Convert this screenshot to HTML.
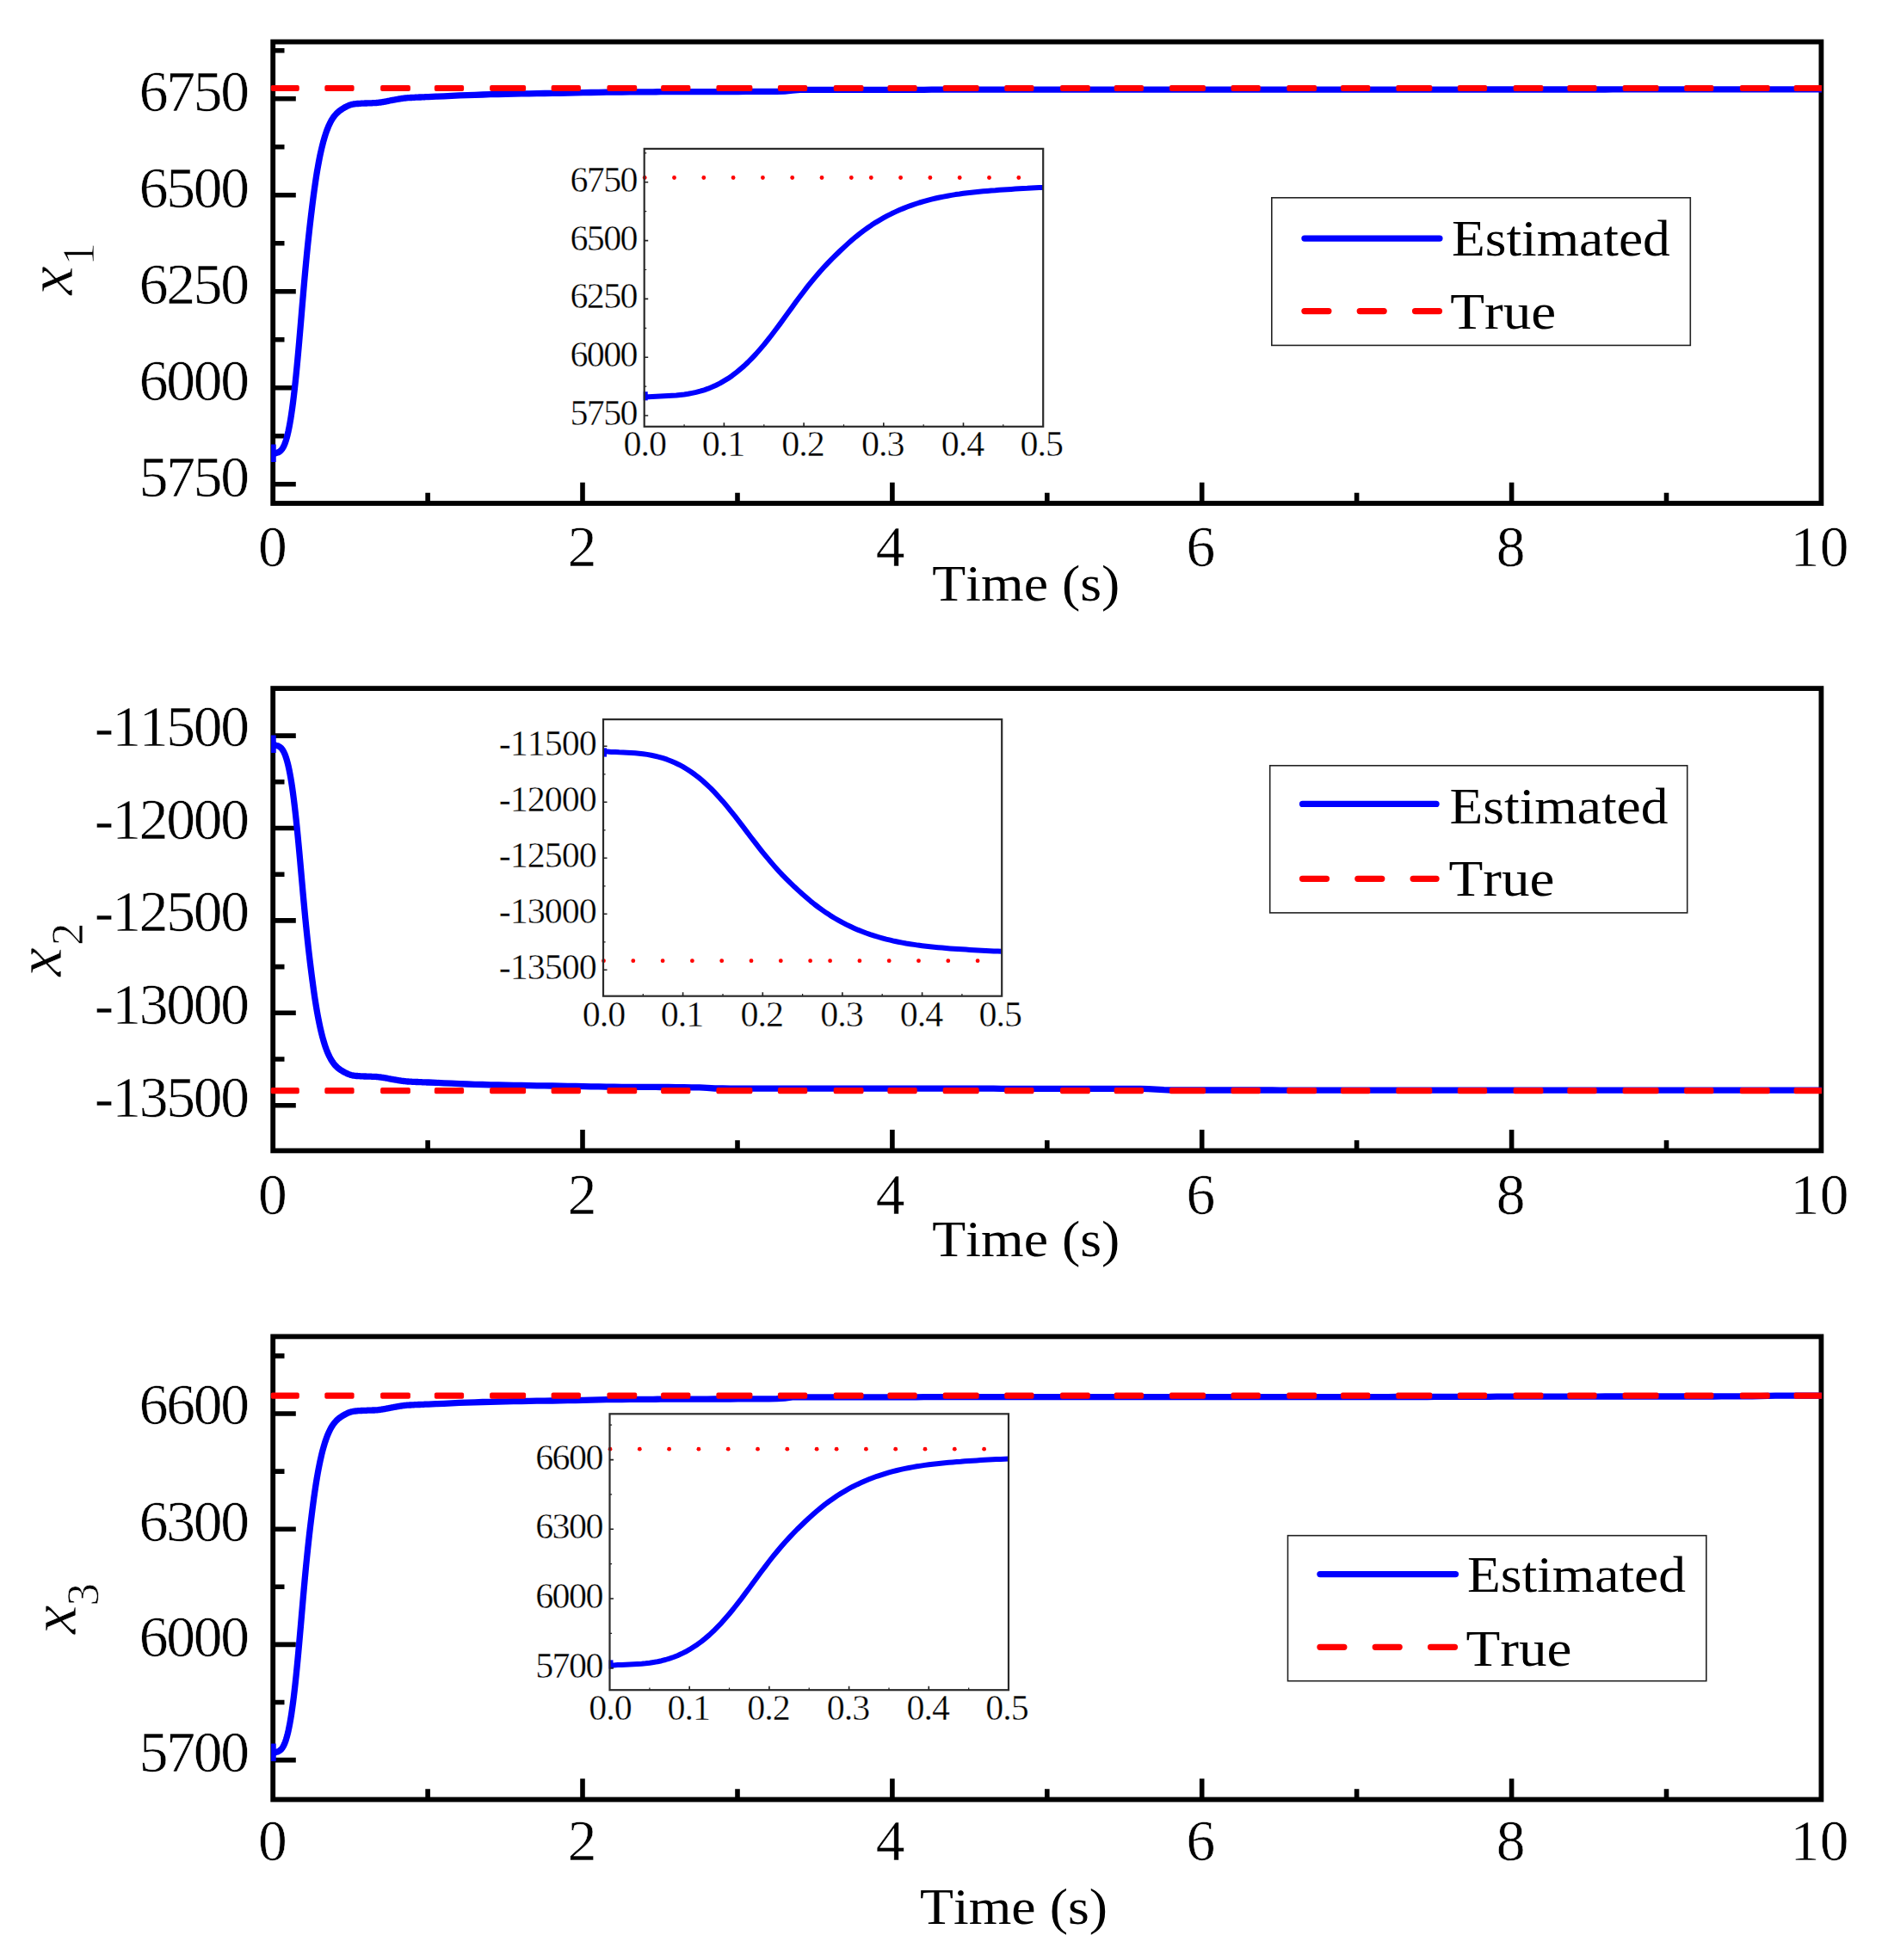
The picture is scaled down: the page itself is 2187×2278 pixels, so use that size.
<!DOCTYPE html>
<html lang="en"><head><meta charset="utf-8"><title>State estimation: estimated vs true</title>
<style>html,body{margin:0;padding:0;background:#fff}svg{display:block}text{font-family:'Liberation Serif', 'DejaVu Serif', serif;fill:#000;font-kerning:none}.tk{font-size:67.5px;stroke:#fff;stroke-width:.55px}.ti{font-size:42px;stroke:#fff;stroke-width:.4px}.lb{font-size:60px}</style></head><body>
<svg width="2187" height="2278" viewBox="0 0 2187 2278">
<rect width="2187" height="2278" fill="#fff"/>
<defs><clipPath id="cp"><rect x="314.2" y="0" width="1802.7" height="2278"/></clipPath></defs>
<g>
<rect x="317.2" y="48.6" width="1799.2" height="536.4" fill="none" stroke="#000" stroke-width="5.8"/>
<path d="M317.2,114.8 H343.8 M317.2,226.8 H343.8 M317.2,338.8 H343.8 M317.2,450.8 H343.8 M317.2,562.8 H343.8 M317.2,58.8 H330.5 M317.2,170.8 H330.5 M317.2,282.8 H330.5 M317.2,394.8 H330.5 M317.2,506.8 H330.5 M497.1,585 V572.8 M677,585 V560.7 M857,585 V572.8 M1036.9,585 V560.7 M1216.8,585 V572.8 M1396.7,585 V560.7 M1576.6,585 V572.8 M1756.6,585 V560.7 M1936.5,585 V572.8" stroke="#000" stroke-width="5.6" fill="none"/>
<g clip-path="url(#cp)"><path d="M317.9,516.5 V537" stroke="#0000ff" stroke-width="5.6" fill="none"/><path d="M317.2,527.5 318.2,527.5 319.3,527 320.3,526.7 321.3,526.4 322.4,526 323.4,525.7 324.3,525.2 325.2,524.6 326.1,523.9 327,522.9 327.9,521.8 328.8,520.4 329.7,518.7 330.6,516.6 331.5,514.3 332.4,511.6 333.3,508.5 334.2,505 335.1,501.1 336,496.7 336.9,491.9 337.8,486.6 338.7,480.8 339.6,474.5 340.5,467.7 341.4,460.4 342.3,452.6 343.2,444.4 344.1,435.6 345,426.4 345.9,416.9 346.8,407 347.7,396.7 348.6,386.3 349.5,375.7 350.4,365 351.3,354.3 352.2,343.7 353.1,333.2 354,323 354.9,313.1 355.8,303.5 356.7,294.2 357.6,285.2 358.5,276.6 359.4,268.3 360.3,260.4 361.2,252.7 362.1,245.2 363,237.9 363.9,230.7 364.8,223.9 365.7,217.4 366.6,211.2 367.5,205.3 368.4,199.7 369.3,194.5 370.2,189.5 371.1,184.8 372,180.3 372.9,176.2 373.8,172.3 374.7,168.6 375.6,165.1 376.5,161.9 377.4,158.8 378.3,156 379.2,153.3 380.1,150.9 381,148.6 381.9,146.4 382.8,144.5 383.7,142.6 384.6,140.9 385.5,139.3 386.4,137.9 387.3,136.5 388.2,135.3 389.1,134.1 390,133.1 390.9,132.1 391.8,131.2 392.7,130.4 393.6,129.6 394.5,128.9 395.4,128.2 396.3,127.6 397.2,127 398.1,126.4 399,125.9 399.9,125.3 400.8,124.8 401.7,124.3 402.6,123.9 403.5,123.4 404.4,123 405.3,122.6 406.2,122.2 407.1,121.9 408,121.6 408.9,121.4 409.8,121.2 410.7,121 411.6,120.9 412.5,120.8 413.4,120.7 414.3,120.6 415.2,120.5 416.1,120.5 417,120.4 417.9,120.3 418.8,120.3 419.7,120.2 420.6,120.2 421.5,120.2 422.4,120.1 423.3,120.1 424.2,120 425.1,120 426,120 426.9,119.9 427.8,119.9 428.7,119.9 429.6,119.8 430.4,119.8 431.3,119.8 432.2,119.8 433.1,119.7 434,119.7 434.9,119.7 435.8,119.6 436.7,119.6 437.6,119.5 438.5,119.4 439.4,119.3 440.3,119.2 441.2,119.1 442.1,119 443,118.9 443.9,118.7 444.8,118.6 445.7,118.4 446.6,118.3 447.5,118.1 448.4,118 449.3,117.8 450.2,117.6 451.1,117.4 452,117.2 452.9,117 453.8,116.8 454.7,116.6 455.6,116.5 456.5,116.3 457.4,116.2 458.3,116 459.2,115.8 460.1,115.7 461,115.5 461.9,115.3 462.8,115.2 463.7,115 464.6,114.9 465.5,114.7 466.4,114.6 467.3,114.4 468.2,114.3 469.1,114.2 470,114.1 470.9,114 471.8,113.9 472.7,113.8 473.6,113.7 474.5,113.7 475.4,113.6 476.3,113.6 477.2,113.5 478.1,113.5 479,113.4 479.9,113.4 480.8,113.3 481.7,113.3 482.6,113.2 483.5,113.2 484.4,113.2 485.3,113.1 486.2,113.1 487.1,113 488,113 488.9,113 489.8,112.9 490.7,112.9 491.6,112.9 492.5,112.8 493.4,112.8 494.3,112.7 495.2,112.7 496.1,112.7 497,112.6 497.9,112.6 506.9,112.2 515.9,111.8 524.9,111.3 533.9,110.9 542.9,110.6 551.9,110.3 560.9,110 569.9,109.7 578.9,109.5 587.9,109.3 596.9,109.1 605.9,108.9 614.9,108.8 623.9,108.6 632.9,108.5 641.9,108.4 650.9,108.3 659.8,108.1 668.8,107.9 677.8,107.7 686.8,107.5 695.8,107.3 704.8,107.2 713.8,107 722.8,107 731.8,106.9 740.8,106.9 749.8,106.8 758.8,106.8 767.8,106.7 776.8,106.7 785.8,106.7 794.8,106.7 803.8,106.6 812.8,106.6 821.8,106.6 830.8,106.6 839.8,106.5 848.8,106.5 857.8,106.5 866.8,106.4 875.8,106.4 884.7,106.4 893.7,106.3 902.7,106.3 911.7,106.1 920.7,105.1 929.7,104.4 938.7,104.4 947.7,104.4 956.7,104.3 965.7,104.3 974.7,104.3 983.7,104.3 992.7,104.3 1001.7,104.3 1010.7,104.3 1019.7,104.3 1028.7,104.3 1037.7,104.3 1046.7,104.3 1055.7,104.3 1064.7,104.3 1073.7,104.3 1082.7,104.2 1091.7,104.2 1100.7,104.2 1109.6,104.2 1118.6,104.2 1127.6,104.2 1136.6,104.2 1145.6,104.2 1154.6,104.2 1163.6,104.2 1172.6,104.2 1181.6,104.2 1190.6,104.2 1199.6,104.2 1208.6,104.2 1217.6,104.2 1226.6,104.2 1235.6,104.2 1244.6,104.2 1253.6,104.2 1262.6,104.2 1271.6,104.2 1280.6,104.2 1289.6,104.2 1298.6,104.2 1307.6,104.2 1316.6,104.2 1325.6,104.2 1334.5,104.2 1343.5,104.2 1352.5,104.2 1361.5,104.2 1370.5,104.2 1379.5,104.2 1388.5,104.2 1397.5,104.2 1406.5,104.2 1415.5,104.2 1424.5,104.2 1433.5,104.2 1442.5,104.2 1451.5,104.2 1460.5,104.2 1469.5,104.2 1478.5,104.2 1487.5,104.1 1496.5,104.1 1505.5,104.1 1514.5,104.1 1523.5,104.1 1532.5,104.1 1541.5,104.1 1550.5,104.1 1559.4,104.1 1568.4,104.1 1577.4,104.1 1586.4,104.1 1595.4,104.1 1604.4,104.1 1613.4,104.1 1622.4,104.1 1631.4,104.1 1640.4,104.1 1649.4,104.1 1658.4,104.1 1667.4,104.1 1676.4,104.1 1685.4,104.1 1694.4,104.1 1703.4,104 1712.4,104 1721.4,104 1730.4,104 1739.4,104 1748.4,104 1757.4,104 1766.4,104 1775.4,104 1784.3,104 1793.3,104 1802.3,104 1811.3,104 1820.3,104 1829.3,104 1838.3,104 1847.3,104 1856.3,104 1865.3,104 1874.3,103.9 1883.3,103.9 1892.3,103.9 1901.3,103.9 1910.3,103.9 1919.3,103.9 1928.3,103.9 1937.3,103.9 1946.3,103.9 1955.3,103.9 1964.3,103.9 1973.3,103.9 1982.3,103.9 1991.3,103.9 2000.3,103.9 2009.2,103.9 2018.2,103.8 2027.2,103.8 2036.2,103.8 2045.2,103.8 2054.2,103.8 2063.2,103.8 2072.2,103.8 2081.2,103.8 2090.2,103.8 2099.2,103.8 2108.2,103.8 2117.2,103.8" stroke="#0000ff" stroke-width="7.3" fill="none" stroke-linejoin="round"/><g fill="#ff0000"><rect x="314.7" y="98.9" width="33.1" height="7.2" rx="2"/><rect x="377.3" y="98.9" width="34.3" height="7.2" rx="2"/><rect x="442.1" y="98.9" width="34.8" height="7.2" rx="2"/><rect x="504.8" y="98.9" width="34.3" height="7.2" rx="2"/><rect x="569.1" y="98.9" width="42" height="7.2" rx="2"/><rect x="640.6" y="98.9" width="34.3" height="7.2" rx="2"/><rect x="705.4" y="98.9" width="34.8" height="7.2" rx="2"/><rect x="768.1" y="98.9" width="34.3" height="7.2" rx="2"/><rect x="832.4" y="98.9" width="42" height="7.2" rx="2"/><rect x="903.9" y="98.9" width="34.3" height="7.2" rx="2"/><rect x="968.7" y="98.9" width="34.8" height="7.2" rx="2"/><rect x="1031.4" y="98.9" width="34.3" height="7.2" rx="2"/><rect x="1095.7" y="98.9" width="42" height="7.2" rx="2"/><rect x="1167.2" y="98.9" width="34.3" height="7.2" rx="2"/><rect x="1232" y="98.9" width="34.8" height="7.2" rx="2"/><rect x="1294.7" y="98.9" width="34.3" height="7.2" rx="2"/><rect x="1359" y="98.9" width="42" height="7.2" rx="2"/><rect x="1430.5" y="98.9" width="34.3" height="7.2" rx="2"/><rect x="1495.3" y="98.9" width="34.8" height="7.2" rx="2"/><rect x="1558" y="98.9" width="34.3" height="7.2" rx="2"/><rect x="1622.3" y="98.9" width="42" height="7.2" rx="2"/><rect x="1693.8" y="98.9" width="34.3" height="7.2" rx="2"/><rect x="1758.6" y="98.9" width="34.8" height="7.2" rx="2"/><rect x="1821.3" y="98.9" width="34.3" height="7.2" rx="2"/><rect x="1885.6" y="98.9" width="42" height="7.2" rx="2"/><rect x="1957.1" y="98.9" width="34.3" height="7.2" rx="2"/><rect x="2021.9" y="98.9" width="34.8" height="7.2" rx="2"/><rect x="2084.6" y="98.9" width="33.8" height="7.2" rx="2"/></g></g>
<text class="tk" x="287.9" y="129.1" text-anchor="end" letter-spacing="-2.2">6750</text>
<text class="tk" x="287.9" y="240.8" text-anchor="end" letter-spacing="-2.2">6500</text>
<text class="tk" x="287.9" y="352.8" text-anchor="end" letter-spacing="-2.2">6250</text>
<text class="tk" x="287.9" y="464.8" text-anchor="end" letter-spacing="-2.2">6000</text>
<text class="tk" x="287.9" y="577.4" text-anchor="end" letter-spacing="-2.2">5750</text>
<text class="tk" x="316.9" y="658" text-anchor="middle">0</text>
<text class="tk" x="676.5" y="658" text-anchor="middle">2</text>
<text class="tk" x="1034.5" y="658" text-anchor="middle">4</text>
<text class="tk" x="1395.4" y="658" text-anchor="middle">6</text>
<text class="tk" x="1755.6" y="658" text-anchor="middle">8</text>
<text class="tk" x="2114.8" y="658" text-anchor="middle" letter-spacing="0.5">10</text>
<text class="lb" x="1083.3" y="697.8" textLength="218" lengthAdjust="spacingAndGlyphs">Time (s)</text>
<g transform="translate(84.3,343) rotate(-90)"><text x="0" y="0" font-size="76" font-style="italic" stroke="#fff" stroke-width=".7">x<tspan font-size="53" font-style="normal" dx="0.8" dy="24.6">1</tspan></text></g>
<rect x="1477.8" y="229.8" width="486.5" height="171.6" fill="#fff" stroke="#222" stroke-width="1.6"/>
<path d="M1516,277.1 H1672.9" stroke="#0000ff" stroke-width="7.4" stroke-linecap="round" fill="none"/>
<path d="M1515.9,361.6 H1673" stroke="#ff0000" stroke-width="7.2" stroke-linecap="round" stroke-dasharray="28 36.3" fill="none"/>
<text class="lb" x="1686.9" y="297.3" textLength="254" lengthAdjust="spacingAndGlyphs">Estimated</text>
<text class="lb" x="1685.3" y="382.4" textLength="123" lengthAdjust="spacingAndGlyphs">True</text>
<rect x="748.7" y="172.9" width="463.5" height="322.9" fill="#fff" stroke="none"/>
<path d="M750.2,455.2 V465.4" stroke="#0000ff" stroke-width="5" fill="none"/>
<path d="M748.7,461.2 753.3,461.2 758,460.9 762.6,460.7 767.2,460.5 771.9,460.3 776.5,460.1 781.1,459.8 785.8,459.5 790.4,459 795.1,458.5 799.7,457.8 804.3,456.9 809,455.9 813.6,454.7 818.2,453.3 822.9,451.7 827.5,449.8 832.1,447.7 836.8,445.4 841.4,442.7 846,439.9 850.7,436.7 855.3,433.2 859.9,429.4 864.6,425.4 869.2,421 873.8,416.3 878.5,411.4 883.1,406.1 887.8,400.6 892.4,394.9 897,389 901.7,382.8 906.3,376.6 910.9,370.2 915.6,363.8 920.2,357.4 924.8,351 929.5,344.8 934.1,338.7 938.7,332.7 943.4,326.9 948,321.4 952.6,316 957.3,310.8 961.9,305.9 966.5,301.1 971.2,296.5 975.8,292 980.5,287.6 985.1,283.4 989.7,279.3 994.4,275.3 999,271.6 1003.6,268.1 1008.3,264.8 1012.9,261.6 1017.5,258.6 1022.2,255.8 1026.8,253.2 1031.4,250.7 1036.1,248.3 1040.7,246.1 1045.3,244 1050,242.1 1054.6,240.3 1059.2,238.6 1063.9,237 1068.5,235.5 1073.2,234.1 1077.8,232.8 1082.4,231.6 1087.1,230.5 1091.7,229.5 1096.3,228.6 1101,227.7 1105.6,226.9 1110.2,226.1 1114.9,225.5 1119.5,224.8 1124.1,224.2 1128.8,223.7 1133.4,223.2 1138,222.7 1142.7,222.3 1147.3,221.9 1151.9,221.5 1156.6,221.2 1161.2,220.8 1165.9,220.5 1170.5,220.2 1175.1,219.9 1179.8,219.6 1184.4,219.3 1189,219 1193.7,218.8 1198.3,218.5 1202.9,218.3 1207.6,218.1 1212.2,218" stroke="#0000ff" stroke-width="6" fill="none" stroke-linejoin="round"/>
<g fill="#ff0000"><circle cx="749.2" cy="206.5" r="2.4"/><circle cx="783.5" cy="206.5" r="2.4"/><circle cx="817.8" cy="206.5" r="2.4"/><circle cx="852.1" cy="206.5" r="2.4"/><circle cx="886.4" cy="206.5" r="2.4"/><circle cx="920.7" cy="206.5" r="2.4"/><circle cx="955" cy="206.5" r="2.4"/><circle cx="989.3" cy="206.5" r="2.4"/><circle cx="1012.3" cy="206.5" r="2.4"/><circle cx="1046.6" cy="206.5" r="2.4"/><circle cx="1080.9" cy="206.5" r="2.4"/><circle cx="1115.2" cy="206.5" r="2.4"/><circle cx="1149.5" cy="206.5" r="2.4"/><circle cx="1183.8" cy="206.5" r="2.4"/></g>
<rect x="748.7" y="172.9" width="463.5" height="322.9" fill="none" stroke="#2a2a2a" stroke-width="2.2"/>
<path d="M748.7,211.8 h4.5 M748.7,279.6 h4.5 M748.7,347.4 h4.5 M748.7,415.2 h4.5 M748.7,483 h4.5 M841.4,495.8 v-4.5 M934.1,495.8 v-4.5 M1026.8,495.8 v-4.5 M1119.5,495.8 v-4.5" stroke="#222" stroke-width="1.6" fill="none"/>
<path d="M748.7,177.9 h2.6 M748.7,245.7 h2.6 M748.7,313.5 h2.6 M748.7,381.3 h2.6 M748.7,449.1 h2.6 M795.1,495.8 v-2.6 M887.8,495.8 v-2.6 M980.5,495.8 v-2.6 M1073.2,495.8 v-2.6 M1165.8,495.8 v-2.6" stroke="#222" stroke-width="1.2" fill="none"/>
<text class="ti" x="740" y="222.8" text-anchor="end" letter-spacing="-1.6">6750</text>
<text class="ti" x="740" y="290.6" text-anchor="end" letter-spacing="-1.6">6500</text>
<text class="ti" x="740" y="358.4" text-anchor="end" letter-spacing="-1.6">6250</text>
<text class="ti" x="740" y="426.2" text-anchor="end" letter-spacing="-1.6">6000</text>
<text class="ti" x="740" y="494" text-anchor="end" letter-spacing="-1.6">5750</text>
<text class="ti" x="749.2" y="530.4" text-anchor="middle" letter-spacing="-1">0.0</text>
<text class="ti" x="840.4" y="530.4" text-anchor="middle" letter-spacing="-1">0.1</text>
<text class="ti" x="933.1" y="530.4" text-anchor="middle" letter-spacing="-1">0.2</text>
<text class="ti" x="1025.8" y="530.4" text-anchor="middle" letter-spacing="-1">0.3</text>
<text class="ti" x="1118.5" y="530.4" text-anchor="middle" letter-spacing="-1">0.4</text>
<text class="ti" x="1210.2" y="530.4" text-anchor="middle" letter-spacing="-1">0.5</text>
</g>
<g>
<rect x="317.2" y="800.1" width="1799.2" height="537.3" fill="none" stroke="#000" stroke-width="5.8"/>
<path d="M317.2,855.1 H343.8 M317.2,962.5 H343.8 M317.2,1069.9 H343.8 M317.2,1177.3 H343.8 M317.2,1284.7 H343.8 M317.2,908.8 H330.5 M317.2,1016.2 H330.5 M317.2,1123.6 H330.5 M317.2,1231 H330.5 M497.1,1337.4 V1325.2 M677,1337.4 V1313.1 M857,1337.4 V1325.2 M1036.9,1337.4 V1313.1 M1216.8,1337.4 V1325.2 M1396.7,1337.4 V1313.1 M1576.6,1337.4 V1325.2 M1756.6,1337.4 V1313.1 M1936.5,1337.4 V1325.2" stroke="#000" stroke-width="5.6" fill="none"/>
<g clip-path="url(#cp)"><path d="M317.9,854.4 V874.9" stroke="#0000ff" stroke-width="5.6" fill="none"/><path d="M317.2,865.4 318.2,865.4 319.3,865.8 320.3,866.2 321.3,866.5 322.4,866.8 323.4,867.1 324.3,867.6 325.2,868.1 326.1,868.8 327,869.7 327.9,870.8 328.8,872.2 329.7,873.8 330.6,875.7 331.5,877.9 332.4,880.5 333.3,883.4 334.2,886.7 335.1,890.4 336,894.5 336.9,899.1 337.8,904.1 338.7,909.6 339.6,915.5 340.5,922 341.4,928.9 342.3,936.2 343.2,944.1 344.1,952.3 345,961 345.9,970.1 346.8,979.5 347.7,989.2 348.6,999 349.5,1009.1 350.4,1019.2 351.3,1029.3 352.2,1039.4 353.1,1049.2 354,1058.9 354.9,1068.3 355.8,1077.4 356.7,1086.2 357.6,1094.7 358.5,1102.8 359.4,1110.6 360.3,1118.2 361.2,1125.5 362.1,1132.6 363,1139.5 363.9,1146.2 364.8,1152.7 365.7,1158.9 366.6,1164.8 367.5,1170.3 368.4,1175.6 369.3,1180.6 370.2,1185.3 371.1,1189.7 372,1193.9 372.9,1197.9 373.8,1201.6 374.7,1205.1 375.6,1208.4 376.5,1211.4 377.4,1214.3 378.3,1217 379.2,1219.5 380.1,1221.8 381,1224 381.9,1226 382.8,1227.9 383.7,1229.6 384.6,1231.3 385.5,1232.7 386.4,1234.1 387.3,1235.4 388.2,1236.6 389.1,1237.7 390,1238.7 390.9,1239.6 391.8,1240.4 392.7,1241.2 393.6,1242 394.5,1242.6 395.4,1243.3 396.3,1243.9 397.2,1244.4 398.1,1245 399,1245.5 399.9,1246 400.8,1246.5 401.7,1246.9 402.6,1247.4 403.5,1247.8 404.4,1248.2 405.3,1248.6 406.2,1248.9 407.1,1249.2 408,1249.5 408.9,1249.7 409.8,1249.9 410.7,1250.1 411.6,1250.2 412.5,1250.3 413.4,1250.4 414.3,1250.5 415.2,1250.5 416.1,1250.6 417,1250.7 417.9,1250.7 418.8,1250.8 419.7,1250.8 420.6,1250.9 421.5,1250.9 422.4,1250.9 423.3,1251 424.2,1251 425.1,1251 426,1251.1 426.9,1251.1 427.8,1251.1 428.7,1251.2 429.6,1251.2 430.4,1251.2 431.3,1251.2 432.2,1251.3 433.1,1251.3 434,1251.3 434.9,1251.3 435.8,1251.4 436.7,1251.4 437.6,1251.5 438.5,1251.6 439.4,1251.7 440.3,1251.8 441.2,1251.9 442.1,1252 443,1252.1 443.9,1252.3 444.8,1252.4 445.7,1252.5 446.6,1252.7 447.5,1252.8 448.4,1253 449.3,1253.1 450.2,1253.3 451.1,1253.5 452,1253.7 452.9,1253.9 453.8,1254 454.7,1254.2 455.6,1254.4 456.5,1254.5 457.4,1254.7 458.3,1254.8 459.2,1255 460.1,1255.1 461,1255.3 461.9,1255.5 462.8,1255.6 463.7,1255.8 464.6,1255.9 465.5,1256 466.4,1256.2 467.3,1256.3 468.2,1256.4 469.1,1256.5 470,1256.6 470.9,1256.7 471.8,1256.8 472.7,1256.9 473.6,1257 474.5,1257 475.4,1257.1 476.3,1257.1 477.2,1257.2 478.1,1257.2 479,1257.3 479.9,1257.3 480.8,1257.4 481.7,1257.4 482.6,1257.4 483.5,1257.5 484.4,1257.5 485.3,1257.5 486.2,1257.6 487.1,1257.6 488,1257.7 488.9,1257.7 489.8,1257.7 490.7,1257.8 491.6,1257.8 492.5,1257.8 493.4,1257.9 494.3,1257.9 495.2,1257.9 496.1,1258 497,1258 497.9,1258 506.9,1258.4 515.9,1258.8 524.9,1259.2 533.9,1259.6 542.9,1260 551.9,1260.3 560.9,1260.5 569.9,1260.8 578.9,1261 587.9,1261.2 596.9,1261.4 605.9,1261.5 614.9,1261.7 623.9,1261.8 632.9,1261.9 641.9,1262 650.9,1262.2 659.8,1262.3 668.8,1262.4 677.8,1262.6 686.8,1262.8 695.8,1262.9 704.8,1263.1 713.8,1263.2 722.8,1263.3 731.8,1263.3 740.8,1263.4 749.8,1263.4 758.8,1263.4 767.8,1263.5 776.8,1263.5 785.8,1263.6 794.8,1263.7 803.8,1263.8 812.8,1263.9 821.8,1264.3 830.8,1265 839.8,1265 848.8,1265.1 857.8,1265.1 866.8,1265.1 875.8,1265.1 884.7,1265.1 893.7,1265.1 902.7,1265.1 911.7,1265.1 920.7,1265.1 929.7,1265.1 938.7,1265.1 947.7,1265.2 956.7,1265.2 965.7,1265.2 974.7,1265.2 983.7,1265.2 992.7,1265.2 1001.7,1265.2 1010.7,1265.2 1019.7,1265.2 1028.7,1265.2 1037.7,1265.2 1046.7,1265.2 1055.7,1265.2 1064.7,1265.2 1073.7,1265.2 1082.7,1265.2 1091.7,1265.2 1100.7,1265.2 1109.6,1265.2 1118.6,1265.2 1127.6,1265.2 1136.6,1265.2 1145.6,1265.2 1154.6,1265.2 1163.6,1265.3 1172.6,1265.3 1181.6,1265.3 1190.6,1265.3 1199.6,1265.3 1208.6,1265.3 1217.6,1265.3 1226.6,1265.3 1235.6,1265.3 1244.6,1265.3 1253.6,1265.3 1262.6,1265.3 1271.6,1265.3 1280.6,1265.3 1289.6,1265.3 1298.6,1265.4 1307.6,1265.4 1316.6,1265.4 1325.6,1265.4 1334.5,1265.6 1343.5,1266.1 1352.5,1266.7 1361.5,1267 1370.5,1267 1379.5,1267 1388.5,1267 1397.5,1267 1406.5,1267 1415.5,1267 1424.5,1267 1433.5,1267 1442.5,1267 1451.5,1267 1460.5,1267 1469.5,1267 1478.5,1267 1487.5,1267.1 1496.5,1267.1 1505.5,1267.1 1514.5,1267.1 1523.5,1267.1 1532.5,1267.1 1541.5,1267.1 1550.5,1267.1 1559.4,1267.1 1568.4,1267.1 1577.4,1267.1 1586.4,1267.1 1595.4,1267.1 1604.4,1267.1 1613.4,1267.1 1622.4,1267.1 1631.4,1267.1 1640.4,1267.1 1649.4,1267.1 1658.4,1267.1 1667.4,1267.1 1676.4,1267.1 1685.4,1267.1 1694.4,1267.2 1703.4,1267.2 1712.4,1267.2 1721.4,1267.2 1730.4,1267.2 1739.4,1267.2 1748.4,1267.2 1757.4,1267.2 1766.4,1267.2 1775.4,1267.2 1784.3,1267.2 1793.3,1267.2 1802.3,1267.2 1811.3,1267.2 1820.3,1267.2 1829.3,1267.2 1838.3,1267.2 1847.3,1267.2 1856.3,1267.2 1865.3,1267.2 1874.3,1267.2 1883.3,1267.2 1892.3,1267.2 1901.3,1267.2 1910.3,1267.2 1919.3,1267.2 1928.3,1267.2 1937.3,1267.2 1946.3,1267.2 1955.3,1267.2 1964.3,1267.2 1973.3,1267.2 1982.3,1267.2 1991.3,1267.2 2000.3,1267.2 2009.2,1267.2 2018.2,1267.2 2027.2,1267.2 2036.2,1267.2 2045.2,1267.2 2054.2,1267.2 2063.2,1267.2 2072.2,1267.2 2081.2,1267.2 2090.2,1267.2 2099.2,1267.2 2108.2,1267.2 2117.2,1267.2" stroke="#0000ff" stroke-width="7.3" fill="none" stroke-linejoin="round"/><g fill="#ff0000"><rect x="314.7" y="1264" width="33.1" height="7.2" rx="2"/><rect x="377.3" y="1264" width="34.3" height="7.2" rx="2"/><rect x="442.1" y="1264" width="34.8" height="7.2" rx="2"/><rect x="504.8" y="1264" width="34.3" height="7.2" rx="2"/><rect x="569.1" y="1264" width="42" height="7.2" rx="2"/><rect x="640.6" y="1264" width="34.3" height="7.2" rx="2"/><rect x="705.4" y="1264" width="34.8" height="7.2" rx="2"/><rect x="768.1" y="1264" width="34.3" height="7.2" rx="2"/><rect x="832.4" y="1264" width="42" height="7.2" rx="2"/><rect x="903.9" y="1264" width="34.3" height="7.2" rx="2"/><rect x="968.7" y="1264" width="34.8" height="7.2" rx="2"/><rect x="1031.4" y="1264" width="34.3" height="7.2" rx="2"/><rect x="1095.7" y="1264" width="42" height="7.2" rx="2"/><rect x="1167.2" y="1264" width="34.3" height="7.2" rx="2"/><rect x="1232" y="1264" width="34.8" height="7.2" rx="2"/><rect x="1294.7" y="1264" width="34.3" height="7.2" rx="2"/><rect x="1359" y="1264" width="42" height="7.2" rx="2"/><rect x="1430.5" y="1264" width="34.3" height="7.2" rx="2"/><rect x="1495.3" y="1264" width="34.8" height="7.2" rx="2"/><rect x="1558" y="1264" width="34.3" height="7.2" rx="2"/><rect x="1622.3" y="1264" width="42" height="7.2" rx="2"/><rect x="1693.8" y="1264" width="34.3" height="7.2" rx="2"/><rect x="1758.6" y="1264" width="34.8" height="7.2" rx="2"/><rect x="1821.3" y="1264" width="34.3" height="7.2" rx="2"/><rect x="1885.6" y="1264" width="42" height="7.2" rx="2"/><rect x="1957.1" y="1264" width="34.3" height="7.2" rx="2"/><rect x="2021.9" y="1264" width="34.8" height="7.2" rx="2"/><rect x="2084.6" y="1264" width="33.8" height="7.2" rx="2"/></g></g>
<text class="tk" x="287.9" y="866.8" text-anchor="end" letter-spacing="-2.2">-11500</text>
<text class="tk" x="287.9" y="975" text-anchor="end" letter-spacing="-2.2">-12000</text>
<text class="tk" x="287.9" y="1082.2" text-anchor="end" letter-spacing="-2.2">-12500</text>
<text class="tk" x="287.9" y="1190" text-anchor="end" letter-spacing="-2.2">-13000</text>
<text class="tk" x="287.9" y="1297.7" text-anchor="end" letter-spacing="-2.2">-13500</text>
<text class="tk" x="316.9" y="1410.5" text-anchor="middle">0</text>
<text class="tk" x="676.5" y="1410.5" text-anchor="middle">2</text>
<text class="tk" x="1034.5" y="1410.5" text-anchor="middle">4</text>
<text class="tk" x="1395.4" y="1410.5" text-anchor="middle">6</text>
<text class="tk" x="1755.6" y="1410.5" text-anchor="middle">8</text>
<text class="tk" x="2114.8" y="1410.5" text-anchor="middle" letter-spacing="0.5">10</text>
<text class="lb" x="1083.3" y="1460" textLength="218" lengthAdjust="spacingAndGlyphs">Time (s)</text>
<g transform="translate(71.4,1135) rotate(-90)"><text x="0" y="0" font-size="76" font-style="italic" stroke="#fff" stroke-width=".7">x<tspan font-size="53" font-style="normal" dx="2.4" dy="24.3">2</tspan></text></g>
<rect x="1475.7" y="889.8" width="485" height="171.1" fill="#fff" stroke="#222" stroke-width="1.6"/>
<path d="M1513.6,934.4 H1669" stroke="#0000ff" stroke-width="7.4" stroke-linecap="round" fill="none"/>
<path d="M1513.5,1021.3 H1669.1" stroke="#ff0000" stroke-width="7.2" stroke-linecap="round" stroke-dasharray="28 36.3" fill="none"/>
<text class="lb" x="1684.5" y="956.7" textLength="254" lengthAdjust="spacingAndGlyphs">Estimated</text>
<text class="lb" x="1683.5" y="1040.9" textLength="123" lengthAdjust="spacingAndGlyphs">True</text>
<rect x="701" y="836.1" width="463.2" height="321.6" fill="#fff" stroke="none"/>
<path d="M702.5,879.6 V869.4" stroke="#0000ff" stroke-width="5" fill="none"/>
<path d="M701,873.6 705.6,873.6 710.3,873.9 714.9,874.1 719.5,874.3 724.2,874.4 728.8,874.7 733.4,874.9 738.1,875.3 742.7,875.7 747.3,876.2 752,876.9 756.6,877.7 761.2,878.7 765.8,879.8 770.5,881.2 775.1,882.7 779.7,884.5 784.4,886.5 789,888.7 793.6,891.2 798.3,894 802.9,897 807.5,900.3 812.2,903.9 816.8,907.8 821.4,912 826.1,916.4 830.7,921.2 835.3,926.2 840,931.4 844.6,936.9 849.2,942.6 853.9,948.4 858.5,954.4 863.1,960.4 867.8,966.6 872.4,972.7 877,978.7 881.6,984.7 886.3,990.6 890.9,996.2 895.5,1001.7 900.2,1007.1 904.8,1012.2 909.4,1017.1 914.1,1021.8 918.7,1026.4 923.3,1030.8 928,1035.1 932.6,1039.3 937.2,1043.3 941.9,1047.3 946.5,1051 951.1,1054.5 955.8,1057.9 960.4,1061.1 965,1064.1 969.7,1067 974.3,1069.6 978.9,1072.2 983.6,1074.6 988.2,1076.8 992.8,1078.9 997.4,1080.9 1002.1,1082.7 1006.7,1084.5 1011.3,1086.1 1016,1087.6 1020.6,1089 1025.2,1090.3 1029.9,1091.6 1034.5,1092.7 1039.1,1093.8 1043.8,1094.7 1048.4,1095.6 1053,1096.5 1057.7,1097.2 1062.3,1097.9 1066.9,1098.6 1071.6,1099.2 1076.2,1099.8 1080.8,1100.3 1085.5,1100.8 1090.1,1101.2 1094.7,1101.6 1099.4,1102 1104,1102.4 1108.6,1102.7 1113.2,1103 1117.9,1103.3 1122.5,1103.6 1127.1,1103.9 1131.8,1104.2 1136.4,1104.5 1141,1104.7 1145.7,1105 1150.3,1105.2 1154.9,1105.4 1159.6,1105.6 1164.2,1105.8" stroke="#0000ff" stroke-width="6" fill="none" stroke-linejoin="round"/>
<g fill="#ff0000"><circle cx="701.5" cy="1116.7" r="2.4"/><circle cx="735.8" cy="1116.7" r="2.4"/><circle cx="770.1" cy="1116.7" r="2.4"/><circle cx="804.4" cy="1116.7" r="2.4"/><circle cx="838.7" cy="1116.7" r="2.4"/><circle cx="873" cy="1116.7" r="2.4"/><circle cx="907.3" cy="1116.7" r="2.4"/><circle cx="941.6" cy="1116.7" r="2.4"/><circle cx="964.6" cy="1116.7" r="2.4"/><circle cx="998.9" cy="1116.7" r="2.4"/><circle cx="1033.2" cy="1116.7" r="2.4"/><circle cx="1067.5" cy="1116.7" r="2.4"/><circle cx="1101.8" cy="1116.7" r="2.4"/><circle cx="1136.1" cy="1116.7" r="2.4"/></g>
<rect x="701" y="836.1" width="463.2" height="321.6" fill="none" stroke="#2a2a2a" stroke-width="2.2"/>
<path d="M701,867.3 h4.5 M701,932.3 h4.5 M701,997.3 h4.5 M701,1062.3 h4.5 M701,1127.3 h4.5 M793.6,1157.7 v-4.5 M886.3,1157.7 v-4.5 M978.9,1157.7 v-4.5 M1071.6,1157.7 v-4.5" stroke="#222" stroke-width="1.6" fill="none"/>
<path d="M701,899.8 h2.6 M701,964.8 h2.6 M701,1029.8 h2.6 M701,1094.8 h2.6 M747.3,1157.7 v-2.6 M840,1157.7 v-2.6 M932.6,1157.7 v-2.6 M1025.2,1157.7 v-2.6 M1117.9,1157.7 v-2.6" stroke="#222" stroke-width="1.2" fill="none"/>
<text class="ti" x="692.7" y="878.3" text-anchor="end" letter-spacing="-1.0">-11500</text>
<text class="ti" x="692.7" y="943.3" text-anchor="end" letter-spacing="-1.0">-12000</text>
<text class="ti" x="692.7" y="1008.3" text-anchor="end" letter-spacing="-1.0">-12500</text>
<text class="ti" x="692.7" y="1073.3" text-anchor="end" letter-spacing="-1.0">-13000</text>
<text class="ti" x="692.7" y="1138.3" text-anchor="end" letter-spacing="-1.0">-13500</text>
<text class="ti" x="701.5" y="1192.8" text-anchor="middle" letter-spacing="-1">0.0</text>
<text class="ti" x="792.6" y="1192.8" text-anchor="middle" letter-spacing="-1">0.1</text>
<text class="ti" x="885.3" y="1192.8" text-anchor="middle" letter-spacing="-1">0.2</text>
<text class="ti" x="977.9" y="1192.8" text-anchor="middle" letter-spacing="-1">0.3</text>
<text class="ti" x="1070.6" y="1192.8" text-anchor="middle" letter-spacing="-1">0.4</text>
<text class="ti" x="1162.2" y="1192.8" text-anchor="middle" letter-spacing="-1">0.5</text>
</g>
<g>
<rect x="317.2" y="1553.4" width="1799.2" height="538.1" fill="none" stroke="#000" stroke-width="5.8"/>
<path d="M317.2,1643 H343.8 M317.2,1777.2 H343.8 M317.2,1911.4 H343.8 M317.2,2045.6 H343.8 M317.2,1575.9 H330.5 M317.2,1710.1 H330.5 M317.2,1844.3 H330.5 M317.2,1978.5 H330.5 M497.1,2091.5 V2079.3 M677,2091.5 V2067.2 M857,2091.5 V2079.3 M1036.9,2091.5 V2067.2 M1216.8,2091.5 V2079.3 M1396.7,2091.5 V2067.2 M1576.6,2091.5 V2079.3 M1756.6,2091.5 V2067.2 M1936.5,2091.5 V2079.3" stroke="#000" stroke-width="5.6" fill="none"/>
<g clip-path="url(#cp)"><path d="M317.9,2026.4 V2046.9" stroke="#0000ff" stroke-width="5.6" fill="none"/><path d="M317.2,2037.4 318.2,2037.4 319.3,2037 320.3,2036.6 321.3,2036.3 322.4,2036 323.4,2035.6 324.3,2035.1 325.2,2034.6 326.1,2033.8 327,2032.9 327.9,2031.8 328.8,2030.4 329.7,2028.8 330.6,2026.8 331.5,2024.5 332.4,2021.8 333.3,2018.8 334.2,2015.4 335.1,2011.6 336,2007.3 336.9,2002.6 337.8,1997.4 338.7,1991.8 339.6,1985.6 340.5,1979 341.4,1971.9 342.3,1964.3 343.2,1956.2 344.1,1947.6 345,1938.7 345.9,1929.3 346.8,1919.6 347.7,1909.6 348.6,1899.4 349.5,1889.1 350.4,1878.6 351.3,1868.2 352.2,1857.8 353.1,1847.6 354,1837.6 354.9,1827.9 355.8,1818.5 356.7,1809.5 357.6,1800.7 358.5,1792.3 359.4,1784.2 360.3,1776.4 361.2,1768.9 362.1,1761.6 363,1754.4 363.9,1747.5 364.8,1740.8 365.7,1734.4 366.6,1728.4 367.5,1722.6 368.4,1717.2 369.3,1712 370.2,1707.2 371.1,1702.6 372,1698.3 372.9,1694.2 373.8,1690.3 374.7,1686.7 375.6,1683.4 376.5,1680.2 377.4,1677.2 378.3,1674.5 379.2,1671.9 380.1,1669.5 381,1667.2 381.9,1665.1 382.8,1663.2 383.7,1661.4 384.6,1659.7 385.5,1658.2 386.4,1656.8 387.3,1655.4 388.2,1654.2 389.1,1653.1 390,1652.1 390.9,1651.1 391.8,1650.2 392.7,1649.4 393.6,1648.7 394.5,1648 395.4,1647.3 396.3,1646.7 397.2,1646.1 398.1,1645.5 399,1645 399.9,1644.5 400.8,1644 401.7,1643.5 402.6,1643.1 403.5,1642.6 404.4,1642.2 405.3,1641.8 406.2,1641.5 407.1,1641.2 408,1640.9 408.9,1640.7 409.8,1640.5 410.7,1640.3 411.6,1640.2 412.5,1640.1 413.4,1640 414.3,1639.9 415.2,1639.8 416.1,1639.7 417,1639.7 417.9,1639.6 418.8,1639.6 419.7,1639.5 420.6,1639.5 421.5,1639.4 422.4,1639.4 423.3,1639.4 424.2,1639.3 425.1,1639.3 426,1639.3 426.9,1639.2 427.8,1639.2 428.7,1639.2 429.6,1639.1 430.4,1639.1 431.3,1639.1 432.2,1639.1 433.1,1639 434,1639 434.9,1639 435.8,1638.9 436.7,1638.9 437.6,1638.8 438.5,1638.8 439.4,1638.7 440.3,1638.6 441.2,1638.4 442.1,1638.3 443,1638.2 443.9,1638 444.8,1637.9 445.7,1637.8 446.6,1637.6 447.5,1637.5 448.4,1637.3 449.3,1637.1 450.2,1636.9 451.1,1636.8 452,1636.6 452.9,1636.4 453.8,1636.2 454.7,1636 455.6,1635.9 456.5,1635.7 457.4,1635.5 458.3,1635.4 459.2,1635.2 460.1,1635.1 461,1634.9 461.9,1634.7 462.8,1634.6 463.7,1634.4 464.6,1634.3 465.5,1634.1 466.4,1634 467.3,1633.9 468.2,1633.7 469.1,1633.6 470,1633.5 470.9,1633.4 471.8,1633.3 472.7,1633.2 473.6,1633.2 474.5,1633.1 475.4,1633.1 476.3,1633 477.2,1633 478.1,1632.9 479,1632.9 479.9,1632.8 480.8,1632.8 481.7,1632.7 482.6,1632.7 483.5,1632.7 484.4,1632.6 485.3,1632.6 486.2,1632.5 487.1,1632.5 488,1632.5 488.9,1632.4 489.8,1632.4 490.7,1632.3 491.6,1632.3 492.5,1632.3 493.4,1632.2 494.3,1632.2 495.2,1632.2 496.1,1632.1 497,1632.1 497.9,1632.1 506.9,1631.7 515.9,1631.3 524.9,1630.8 533.9,1630.4 542.9,1630.1 551.9,1629.8 560.9,1629.5 569.9,1629.3 578.9,1629 587.9,1628.8 596.9,1628.6 605.9,1628.5 614.9,1628.3 623.9,1628.2 632.9,1628.1 641.9,1628 650.9,1627.8 659.8,1627.7 668.8,1627.5 677.8,1627.3 686.8,1627.1 695.8,1626.8 704.8,1626.7 713.8,1626.6 722.8,1626.5 731.8,1626.4 740.8,1626.4 749.8,1626.3 758.8,1626.3 767.8,1626.2 776.8,1626.2 785.8,1626.2 794.8,1626.1 803.8,1626.1 812.8,1626.1 821.8,1626.1 830.8,1626 839.8,1626 848.8,1626 857.8,1625.9 866.8,1625.9 875.8,1625.9 884.7,1625.8 893.7,1625.8 902.7,1625.7 911.7,1625.2 920.7,1623.9 929.7,1623.9 938.7,1623.8 947.7,1623.8 956.7,1623.8 965.7,1623.8 974.7,1623.8 983.7,1623.8 992.7,1623.8 1001.7,1623.8 1010.7,1623.8 1019.7,1623.8 1028.7,1623.8 1037.7,1623.8 1046.7,1623.8 1055.7,1623.8 1064.7,1623.8 1073.7,1623.7 1082.7,1623.7 1091.7,1623.7 1100.7,1623.7 1109.6,1623.7 1118.6,1623.7 1127.6,1623.7 1136.6,1623.7 1145.6,1623.7 1154.6,1623.7 1163.6,1623.7 1172.6,1623.7 1181.6,1623.7 1190.6,1623.7 1199.6,1623.7 1208.6,1623.7 1217.6,1623.7 1226.6,1623.7 1235.6,1623.7 1244.6,1623.7 1253.6,1623.7 1262.6,1623.7 1271.6,1623.7 1280.6,1623.7 1289.6,1623.7 1298.6,1623.7 1307.6,1623.7 1316.6,1623.7 1325.6,1623.7 1334.5,1623.7 1343.5,1623.7 1352.5,1623.7 1361.5,1623.7 1370.5,1623.7 1379.5,1623.7 1388.5,1623.7 1397.5,1623.7 1406.5,1623.7 1415.5,1623.7 1424.5,1623.7 1433.5,1623.7 1442.5,1623.7 1451.5,1623.7 1460.5,1623.7 1469.5,1623.7 1478.5,1623.7 1487.5,1623.7 1496.5,1623.7 1505.5,1623.7 1514.5,1623.7 1523.5,1623.6 1532.5,1623.6 1541.5,1623.6 1550.5,1623.6 1559.4,1623.6 1568.4,1623.6 1577.4,1623.6 1586.4,1623.6 1595.4,1623.6 1604.4,1623.6 1613.4,1623.6 1622.4,1623.5 1631.4,1623.5 1640.4,1623.5 1649.4,1623.5 1658.4,1623.5 1667.4,1623.4 1676.4,1623.4 1685.4,1623.4 1694.4,1623.4 1703.4,1623.3 1712.4,1623.3 1721.4,1623.3 1730.4,1623.3 1739.4,1623.2 1748.4,1623.2 1757.4,1623.2 1766.4,1623.2 1775.4,1623.1 1784.3,1623.1 1793.3,1623.1 1802.3,1623.1 1811.3,1623.1 1820.3,1623.1 1829.3,1623.1 1838.3,1623.1 1847.3,1623.1 1856.3,1623.1 1865.3,1623 1874.3,1623 1883.3,1623 1892.3,1623 1901.3,1623 1910.3,1623 1919.3,1623 1928.3,1623 1937.3,1623 1946.3,1623 1955.3,1623 1964.3,1623 1973.3,1623 1982.3,1623 1991.3,1623 2000.3,1622.9 2009.2,1622.9 2018.2,1622.9 2027.2,1622.9 2036.2,1622.9 2045.2,1622.6 2054.2,1622.3 2063.2,1622.2 2072.2,1622.2 2081.2,1622.2 2090.2,1622.2 2099.2,1622.2 2108.2,1622.2 2117.2,1622.2" stroke="#0000ff" stroke-width="7.3" fill="none" stroke-linejoin="round"/><g fill="#ff0000"><rect x="314.7" y="1618.6" width="33.1" height="7.2" rx="2"/><rect x="377.3" y="1618.6" width="34.3" height="7.2" rx="2"/><rect x="442.1" y="1618.6" width="34.8" height="7.2" rx="2"/><rect x="504.8" y="1618.6" width="34.3" height="7.2" rx="2"/><rect x="569.1" y="1618.6" width="42" height="7.2" rx="2"/><rect x="640.6" y="1618.6" width="34.3" height="7.2" rx="2"/><rect x="705.4" y="1618.6" width="34.8" height="7.2" rx="2"/><rect x="768.1" y="1618.6" width="34.3" height="7.2" rx="2"/><rect x="832.4" y="1618.6" width="42" height="7.2" rx="2"/><rect x="903.9" y="1618.6" width="34.3" height="7.2" rx="2"/><rect x="968.7" y="1618.6" width="34.8" height="7.2" rx="2"/><rect x="1031.4" y="1618.6" width="34.3" height="7.2" rx="2"/><rect x="1095.7" y="1618.6" width="42" height="7.2" rx="2"/><rect x="1167.2" y="1618.6" width="34.3" height="7.2" rx="2"/><rect x="1232" y="1618.6" width="34.8" height="7.2" rx="2"/><rect x="1294.7" y="1618.6" width="34.3" height="7.2" rx="2"/><rect x="1359" y="1618.6" width="42" height="7.2" rx="2"/><rect x="1430.5" y="1618.6" width="34.3" height="7.2" rx="2"/><rect x="1495.3" y="1618.6" width="34.8" height="7.2" rx="2"/><rect x="1558" y="1618.6" width="34.3" height="7.2" rx="2"/><rect x="1622.3" y="1618.6" width="42" height="7.2" rx="2"/><rect x="1693.8" y="1618.6" width="34.3" height="7.2" rx="2"/><rect x="1758.6" y="1618.6" width="34.8" height="7.2" rx="2"/><rect x="1821.3" y="1618.6" width="34.3" height="7.2" rx="2"/><rect x="1885.6" y="1618.6" width="42" height="7.2" rx="2"/><rect x="1957.1" y="1618.6" width="34.3" height="7.2" rx="2"/><rect x="2021.9" y="1618.6" width="34.8" height="7.2" rx="2"/><rect x="2084.6" y="1618.6" width="33.8" height="7.2" rx="2"/></g></g>
<text class="tk" x="287.9" y="1655.2" text-anchor="end" letter-spacing="-2.2">6600</text>
<text class="tk" x="287.9" y="1790.6" text-anchor="end" letter-spacing="-2.2">6300</text>
<text class="tk" x="287.9" y="1924.5" text-anchor="end" letter-spacing="-2.2">6000</text>
<text class="tk" x="287.9" y="2059.2" text-anchor="end" letter-spacing="-2.2">5700</text>
<text class="tk" x="316.9" y="2162" text-anchor="middle">0</text>
<text class="tk" x="676.5" y="2162" text-anchor="middle">2</text>
<text class="tk" x="1034.5" y="2162" text-anchor="middle">4</text>
<text class="tk" x="1395.4" y="2162" text-anchor="middle">6</text>
<text class="tk" x="1755.6" y="2162" text-anchor="middle">8</text>
<text class="tk" x="2114.8" y="2162" text-anchor="middle" letter-spacing="0.5">10</text>
<text class="lb" x="1069" y="2236" textLength="218" lengthAdjust="spacingAndGlyphs">Time (s)</text>
<g transform="translate(87.9,1899.3) rotate(-90)"><text x="0" y="0" font-size="76" font-style="italic" stroke="#fff" stroke-width=".7">x<tspan font-size="53" font-style="normal" dx="-0.8" dy="26.4">3</tspan></text></g>
<rect x="1496.5" y="1784.7" width="486.3" height="169" fill="#fff" stroke="#222" stroke-width="1.6"/>
<path d="M1534,1829.6 H1691.4" stroke="#0000ff" stroke-width="7.4" stroke-linecap="round" fill="none"/>
<path d="M1533.9,1914.3 H1691.5" stroke="#ff0000" stroke-width="7.2" stroke-linecap="round" stroke-dasharray="28 36.3" fill="none"/>
<text class="lb" x="1705" y="1850.2" textLength="254" lengthAdjust="spacingAndGlyphs">Estimated</text>
<text class="lb" x="1703.5" y="1935.6" textLength="123" lengthAdjust="spacingAndGlyphs">True</text>
<rect x="708.5" y="1643.3" width="463.5" height="320.9" fill="#fff" stroke="none"/>
<path d="M710,1929.4 V1939.6" stroke="#0000ff" stroke-width="5" fill="none"/>
<path d="M708.5,1935.4 713.1,1935.4 717.8,1935.1 722.4,1934.9 727,1934.7 731.7,1934.5 736.3,1934.3 740.9,1934 745.6,1933.7 750.2,1933.3 754.9,1932.7 759.5,1932 764.1,1931.2 768.8,1930.2 773.4,1929 778,1927.6 782.7,1926 787.3,1924.2 791.9,1922.1 796.6,1919.8 801.2,1917.2 805.8,1914.3 810.5,1911.2 815.1,1907.8 819.7,1904.1 824.4,1900.1 829,1895.8 833.6,1891.2 838.3,1886.3 842.9,1881.1 847.5,1875.7 852.2,1870 856.8,1864.1 861.5,1858.1 866.1,1851.9 870.7,1845.7 875.4,1839.3 880,1833 884.6,1826.8 889.3,1820.6 893.9,1814.5 898.5,1808.7 903.2,1803 907.8,1797.5 912.4,1792.2 917.1,1787.1 921.7,1782.2 926.3,1777.5 931,1773 935.6,1768.5 940.2,1764.2 944.9,1760 949.5,1756 954.2,1752.1 958.8,1748.4 963.4,1745 968.1,1741.7 972.7,1738.5 977.3,1735.6 982,1732.8 986.6,1730.2 991.2,1727.7 995.9,1725.4 1000.5,1723.3 1005.1,1721.2 1009.8,1719.3 1014.4,1717.5 1019,1715.8 1023.7,1714.3 1028.3,1712.8 1033,1711.4 1037.6,1710.2 1042.2,1709 1046.9,1707.9 1051.5,1706.9 1056.1,1706 1060.8,1705.1 1065.4,1704.3 1070,1703.6 1074.7,1702.9 1079.3,1702.3 1083.9,1701.7 1088.6,1701.2 1093.2,1700.7 1097.8,1700.2 1102.5,1699.8 1107.1,1699.4 1111.7,1699 1116.4,1698.7 1121,1698.3 1125.7,1698 1130.3,1697.7 1134.9,1697.4 1139.6,1697.1 1144.2,1696.8 1148.8,1696.6 1153.5,1696.3 1158.1,1696.1 1162.7,1695.9 1167.4,1695.7 1172,1695.5" stroke="#0000ff" stroke-width="6" fill="none" stroke-linejoin="round"/>
<g fill="#ff0000"><circle cx="709" cy="1684.2" r="2.4"/><circle cx="743.3" cy="1684.2" r="2.4"/><circle cx="777.6" cy="1684.2" r="2.4"/><circle cx="811.9" cy="1684.2" r="2.4"/><circle cx="846.2" cy="1684.2" r="2.4"/><circle cx="880.5" cy="1684.2" r="2.4"/><circle cx="914.8" cy="1684.2" r="2.4"/><circle cx="949.1" cy="1684.2" r="2.4"/><circle cx="972.1" cy="1684.2" r="2.4"/><circle cx="1006.4" cy="1684.2" r="2.4"/><circle cx="1040.7" cy="1684.2" r="2.4"/><circle cx="1075" cy="1684.2" r="2.4"/><circle cx="1109.3" cy="1684.2" r="2.4"/><circle cx="1143.6" cy="1684.2" r="2.4"/></g>
<rect x="708.5" y="1643.3" width="463.5" height="320.9" fill="none" stroke="#2a2a2a" stroke-width="2.2"/>
<path d="M708.5,1696.6 h4.5 M708.5,1777.3 h4.5 M708.5,1858 h4.5 M708.5,1938.7 h4.5 M801.2,1964.2 v-4.5 M893.9,1964.2 v-4.5 M986.6,1964.2 v-4.5 M1079.3,1964.2 v-4.5" stroke="#222" stroke-width="1.6" fill="none"/>
<path d="M708.5,1656.2 h2.6 M708.5,1736.9 h2.6 M708.5,1817.7 h2.6 M708.5,1898.3 h2.6 M754.9,1964.2 v-2.6 M847.5,1964.2 v-2.6 M940.2,1964.2 v-2.6 M1033,1964.2 v-2.6 M1125.7,1964.2 v-2.6" stroke="#222" stroke-width="1.2" fill="none"/>
<text class="ti" x="699.8" y="1707.6" text-anchor="end" letter-spacing="-1.6">6600</text>
<text class="ti" x="699.8" y="1788.3" text-anchor="end" letter-spacing="-1.6">6300</text>
<text class="ti" x="699.8" y="1869" text-anchor="end" letter-spacing="-1.6">6000</text>
<text class="ti" x="699.8" y="1949.7" text-anchor="end" letter-spacing="-1.6">5700</text>
<text class="ti" x="709" y="1999.3" text-anchor="middle" letter-spacing="-1">0.0</text>
<text class="ti" x="800.2" y="1999.3" text-anchor="middle" letter-spacing="-1">0.1</text>
<text class="ti" x="892.9" y="1999.3" text-anchor="middle" letter-spacing="-1">0.2</text>
<text class="ti" x="985.6" y="1999.3" text-anchor="middle" letter-spacing="-1">0.3</text>
<text class="ti" x="1078.3" y="1999.3" text-anchor="middle" letter-spacing="-1">0.4</text>
<text class="ti" x="1170" y="1999.3" text-anchor="middle" letter-spacing="-1">0.5</text>
</g>
</svg></body></html>
